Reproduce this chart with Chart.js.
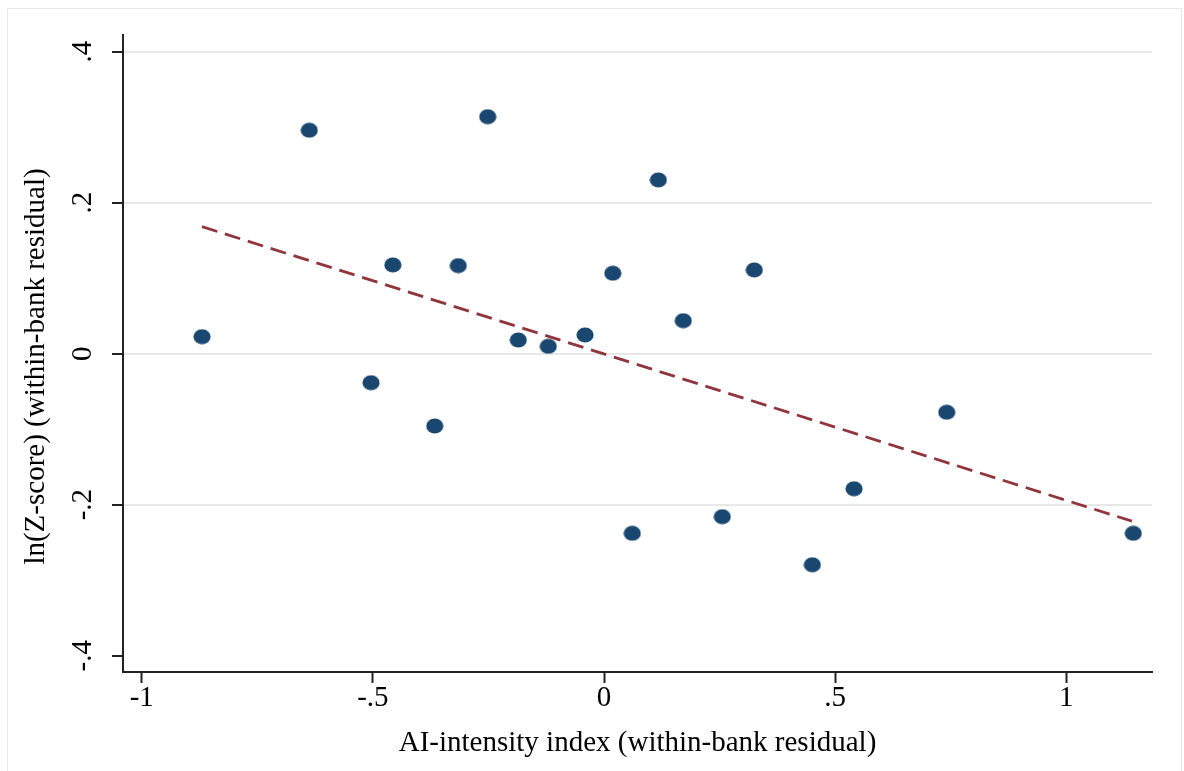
<!DOCTYPE html>
<html>
<head>
<meta charset="utf-8">
<script src="https://cdn.jsdelivr.net/npm/chart.js@4"></script>
<style>
	body { margin: 0; background: #fff; }
	#frame { position: absolute; left: 7px; top: 8px; width: 1173px; height: 800px; border: 1px solid #e8e8e8; }
	#chart { position: absolute; left: 0; top: 0; }
</style>
</head>
<body>
<div id="frame"></div>
<canvas id="chart" width="1184" height="771"></canvas>
<script>
// binned scatter
const xValues = [-0.8696, -0.6375, -0.5040, -0.4568, -0.3662, -0.3152, -0.2516, -0.1854, -0.1205, -0.0411,
                  0.0190,  0.0612,  0.1175,  0.1715,  0.2559,  0.3251,  0.4506,  0.5408,  0.7413,  1.1449];
const yValues = [ 0.0225,  0.2959, -0.0384,  0.1175, -0.0958,  0.1166,  0.3139,  0.0181,  0.0098,  0.0248,
                  0.1065, -0.2379,  0.2301,  0.0437, -0.2159,  0.1109, -0.2795, -0.1789, -0.0776, -0.2379];

// linear fit end points
const fitX = [-0.8696, 1.1420];
const fitY = [ 0.1682, -0.2218];

const xTicks = [-1, -0.5, 0, 0.5, 1];
const xTickLabels = ['-1', '-.5', '0', '.5', '1'];
const yTicks = [-0.4, -0.2, 0, 0.2, 0.4];
const yTickLabels = ['-.4', '-.2', '0', '.2', '.4'];

const xTitle = 'AI-intensity index (within-bank residual)';
const yTitle = 'ln(Z-score) (within-bank residual)';

const navy = '#1a476f';
const maroon = '#90353b';
const axisColor = '#222222';
const fontFamily = '"Liberation Serif", "Times New Roman", serif';

// stata dots are a bit wider than tall
function makeDot() {
	const c = document.createElement('canvas');
	c.width = 18; c.height = 16;
	const g = c.getContext('2d');
	g.fillStyle = navy;
	g.beginPath();
	g.ellipse(9, 8, 8.6, 7.6, 0, 0, Math.PI * 2);
	g.fill();
	return c;
}

const labelsPlugin = {
	id: 'stataLabels',
	afterDraw(chart) {
		const ctx = chart.ctx;
		const xs = chart.scales.x, ys = chart.scales.y;
		const area = chart.chartArea;
		ctx.save();
		ctx.fillStyle = '#000';
		ctx.font = '29px ' + fontFamily;
		ctx.textAlign = 'center';
		ctx.textBaseline = 'alphabetic';
		xTicks.forEach((v, i) => {
			ctx.fillText(xTickLabels[i], xs.getPixelForValue(v), area.bottom + 34);
		});
		yTicks.forEach((v, i) => {
			ctx.save();
			ctx.translate(area.left - 32, ys.getPixelForValue(v));
			ctx.rotate(-Math.PI / 2);
			ctx.fillText(yTickLabels[i], 0, 0);
			ctx.restore();
		});
		ctx.fillText(xTitle, (area.left + area.right) / 2, area.bottom + 79);
		ctx.save();
		ctx.translate(area.left - 79, (area.top + area.bottom) / 2 + 13);
		ctx.rotate(-Math.PI / 2);
		ctx.fillText(yTitle, 0, 0);
		ctx.restore();
		ctx.restore();
	}
};

new Chart(document.getElementById('chart'), {
	type: 'scatter',
	data: {
		datasets: [
			{
				type: 'line',
				data: fitX.map((x, i) => ({ x, y: fitY[i] })),
				borderColor: maroon,
				borderWidth: 2.8,
				borderDash: [16, 8],
				pointRadius: 0,
				fill: false
			},
			{
				data: xValues.map((x, i) => ({ x, y: yValues[i] })),
				pointStyle: makeDot(),
				backgroundColor: navy,
				borderWidth: 0
			}
		]
	},
	options: {
		responsive: false,
		animation: false,
		devicePixelRatio: 1,
		layout: { padding: { left: 112, right: 32, top: 35, bottom: 88 } },
		plugins: { legend: { display: false }, tooltip: { enabled: false } },
		scales: {
			x: {
				type: 'linear',
				min: -1.0405, max: 1.1854,
				afterBuildTicks: s => { s.ticks = xTicks.map(v => ({ value: v })); },
				ticks: { display: false },
				grid: { drawOnChartArea: false, drawTicks: true, tickLength: 11, tickColor: axisColor, tickWidth: 2 },
				border: { display: true, color: axisColor, width: 2 }
			},
			y: {
				type: 'linear',
				min: -0.4216, max: 0.422,
				afterBuildTicks: s => { s.ticks = yTicks.map(v => ({ value: v })); },
				ticks: { display: false },
				grid: {
					color: c => (c.tick && c.tick.value === -0.4) ? 'rgba(0,0,0,0)' : '#e8e8e8',
					lineWidth: 2,
					drawTicks: true, tickLength: 11, tickColor: axisColor, tickWidth: 2
				},
				border: { display: true, color: axisColor, width: 2 }
			}
		}
	},
	plugins: [labelsPlugin]
});
</script>
</body>
</html>
